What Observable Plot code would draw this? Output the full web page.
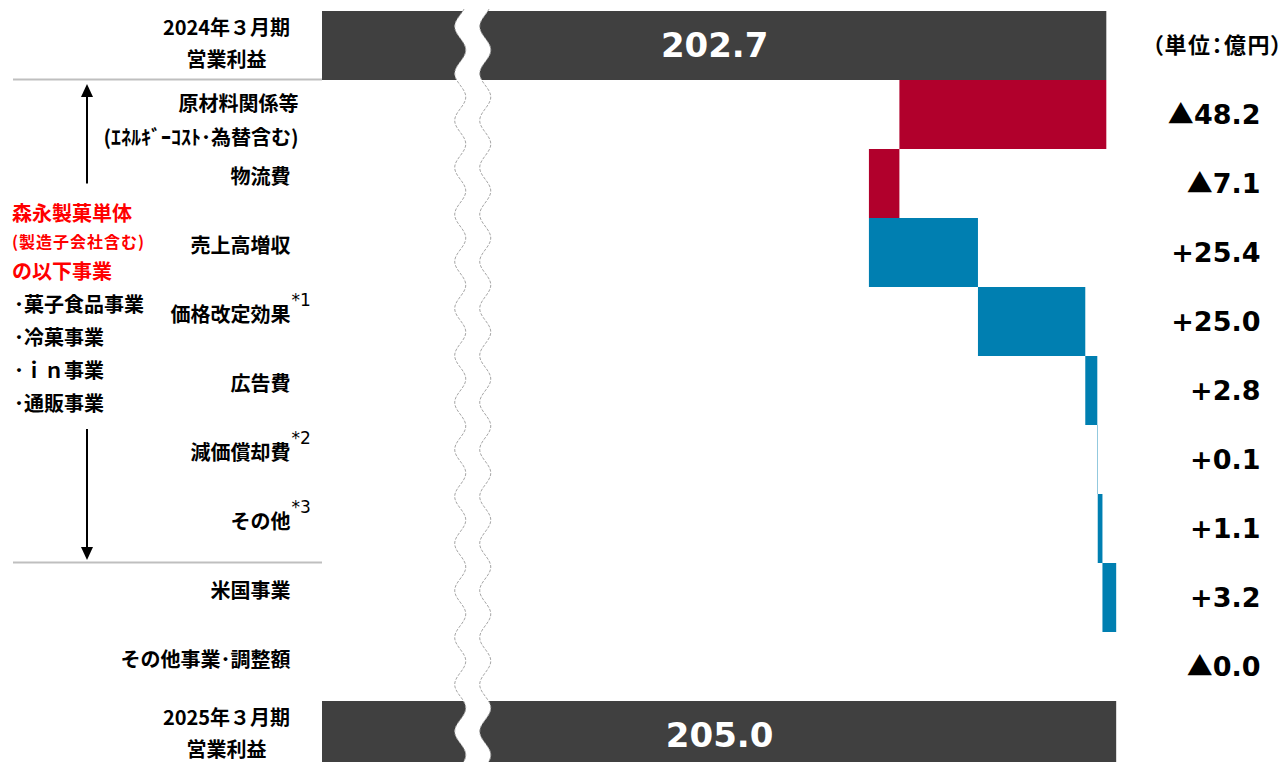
<!DOCTYPE html>
<html><head><meta charset="utf-8">
<script src="https://cdn.jsdelivr.net/npm/d3@7"></script>
<script src="https://cdn.jsdelivr.net/npm/@observablehq/plot@0.6"></script>
<style>
html,body{margin:0;padding:0;background:#fff;overflow:hidden;}
#wrap{position:relative;width:1285px;height:762px;overflow:hidden;}
</style></head>
<body><div id="wrap"><div id="chart"></div></div>
<script>
// ---- data ----
const rowKeys = ["fy2024","materials","logistics","sales","price","ads","depr","other","us","otherBiz","fy2025"];
const rowLabels = ["2024年３月期\n営業利益","原材料関係等\n(ｴﾈﾙｷﾞｰｺｽﾄ･為替含む)","物流費","売上高増収","価格改定効果","広告費","減価償却費","その他","米国事業","その他事業･調整額","2025年３月期\n営業利益"];
const rowNotes = ["","","","","*1","","*2","*3","","",""];
const deltaKeys = ["materials","logistics","sales","price","ads","depr","other","us","otherBiz"];
const deltas = [-48.2, -7.1, 25.4, 25.0, 2.8, 0.1, 1.1, 3.2, -0.0];
const totalKeys = ["fy2024","fy2025"];
const totalValues = [202.7, 205.0];
const unitLabel = "（単位：億円）";
const noteRed = ["森永製菓単体","(製造子会社含む)","の以下事業"];
const noteBlack = ["･菓子食品事業","･冷菓事業","･ｉｎ事業","･通販事業"];
const xDomain = [20, 238.5];   // axis is broken: visible range starts at 20
const breakValue = 52.2;       // position of the wavy axis break

// ---- derived tables ----
const labelOf = k => rowLabels[rowKeys.indexOf(k)];
const noteOf = k => rowNotes[rowKeys.indexOf(k)];
const isNeg = d => d < 0 || Object.is(d, -0);
let run = totalValues[0];
const steps = deltaKeys.map((k, i) => {
  const d = deltas[i];
  const s = {key: k, start: run, end: run + d, delta: d,
    text: (isNeg(d) ? "▲" : "+") + Math.abs(d).toFixed(1)};
  run += d;
  return s;
});
const totals = totalKeys.map((k, i) => ({key: k, value: totalValues[i]}));
const items = deltaKeys.map(k => ({key: k, label: labelOf(k), note: noteOf(k)}));

const RED = "#B1002C", BLUE = "#007FB1", DARK = "#404040", GRID = "#BFBFBF";
const JP = "'Noto Sans CJK JP', sans-serif";
const NUM = "'DejaVu Sans', sans-serif";

// ---- decorations: break, separators, arrows, left note ----
function decorations(index, scales, values, dims) {
  const {width, height, marginTop, marginBottom, marginLeft} = dims;
  const rowH = (height - marginTop - marginBottom) / rowKeys.length;
  const rowTop = k => marginTop + rowKeys.indexOf(k) * rowH;
  const g = d3.create("svg:g");
  // wavy break
  const cx = scales.x(breakValue), gap = 25, amp = 5.5, period = 47;
  const ys = d3.range(marginTop - 2, height + 2, 1);
  const wave = (y, off) => cx + off + amp * Math.cos(2 * Math.PI * (y - 50) / period);
  const left = ys.map(y => [wave(y, 0), y]);
  const right = ys.map(y => [wave(y, gap), y]);
  g.append("path").attr("d", d3.line()(left.concat(right.slice().reverse())) + "Z").attr("fill", "#fff");
  for (const pts of [left, right]) {
    g.append("path").attr("d", d3.line()(pts)).attr("fill", "none")
      .attr("stroke", "#A6A6A6").attr("stroke-width", 1).attr("stroke-dasharray", "3,1.5");
  }
  // separators
  for (const k of ["materials", "us"]) {
    const y = rowTop(k) - 0.5;
    g.append("line").attr("x1", 13).attr("x2", marginLeft).attr("y1", y).attr("y2", y)
      .attr("stroke", GRID).attr("stroke-width", 2);
  }
  // arrows
  const ax = 87;
  const arrow = (y1, y2) => {
    const dir = Math.sign(y2 - y1), hl = 13, hw = 6;
    g.append("line").attr("x1", ax).attr("x2", ax).attr("y1", y1).attr("y2", y2 - dir * hl)
      .attr("stroke", "#000").attr("stroke-width", 2);
    g.append("path").attr("d", `M${ax},${y2}L${ax - hw},${y2 - dir * hl}L${ax + hw},${y2 - dir * hl}Z`).attr("fill", "#000");
  };
  arrow(rowTop("logistics") + rowH / 2, rowTop("materials") + 4);
  arrow(rowTop("depr") + 4, rowTop("us") - 3);
  // left note text
  const y0 = rowTop("sales") - 4;
  const redOffsets = [0, 28, 58], redSizes = [20, 16, 20], redSpacing = [0, 1, 0];
  noteRed.forEach((t, i) => g.append("text").text(t).attr("x", 12).attr("y", y0 + redOffsets[i])
    .attr("dy", "0.35em").attr("text-anchor", "start").attr("fill", "#FF0000").attr("font-size", redSizes[i])
    .attr("letter-spacing", redSpacing[i])
    .attr("font-weight", "bold").attr("font-family", JP));
  noteBlack.forEach((t, i) => g.append("text").text(t).attr("x", 14).attr("y", y0 + 91 + 33 * i)
    .attr("dy", "0.35em").attr("text-anchor", "start").attr("fill", "#000").attr("font-size", 20)
    .attr("font-weight", "bold").attr("font-family", JP));
  return g.node();
}

const chart = Plot.plot({
  width: 1285,
  height: 770,
  marginLeft: 322,
  marginRight: 25,
  marginTop: 11,
  marginBottom: 0,
  style: {fontFamily: JP, background: "#fff"},
  x: {domain: xDomain, axis: null},
  y: {type: "band", domain: rowKeys, padding: 0, axis: null},
  marks: [
    Plot.ruleX(items, {x: () => xDomain[0], y: "key", stroke: GRID, strokeWidth: 2}),
    Plot.barX(totals, {x1: () => 0, x2: "value", y: "key", fill: DARK, clip: "frame"}),
    Plot.barX(steps, {x1: "start", x2: "end", y: "key", fill: d => isNeg(d.delta) ? RED : BLUE}),
    Plot.ruleX(steps, {x: "end", y: "key", stroke: d => isNeg(d.delta) ? "#D9607F" : "#5FA8CC", strokeWidth: 1.2}),
    decorations,
    Plot.text(totals, {x: d => (xDomain[0] + d.value) / 2, y: "key", text: d => d.value.toFixed(1),
      fill: "#fff", fontSize: 34, fontWeight: "bold", fontFamily: NUM}),
    Plot.text(steps, {y: "key", text: "text", frameAnchor: "right", textAnchor: "end",
      fontSize: 27, fontWeight: "bold", fontFamily: NUM, fill: "#000"}),
    Plot.text([{key: rowKeys[0], text: unitLabel}], {y: "key", text: "text", frameAnchor: "right", dx: 23,
      textAnchor: "end", fontSize: 22, fontWeight: "bold", fill: "#000"}),
    Plot.text(totals, {y: "key", text: d => labelOf(d.key), frameAnchor: "left", dx: -96, dy: -5,
      textAnchor: "middle", lineHeight: 1.6, fontSize: 20, fontWeight: "bold", fill: "#000"}),
    Plot.text(items.filter(d => !d.label.includes("\n")), {y: "key", text: "label", frameAnchor: "left", dx: -32, dy: -6,
      textAnchor: "end", fontSize: 20, fontWeight: "bold", fill: "#000"}),
    Plot.text(items.filter(d => d.label.includes("\n")), {y: "key", text: "label", frameAnchor: "left", dx: -24, dy: 2,
      textAnchor: "end", lineHeight: 1.7, fontSize: 20, fontWeight: "bold", fill: "#000"}),
    Plot.text(items.filter(d => d.note), {y: "key", text: "note", frameAnchor: "left", dx: -31, dy: -21,
      textAnchor: "start", fontSize: 17, fontWeight: "normal", fontFamily: NUM, fill: "#000"})
  ]
});
// post-styling of a few texts
d3.select(chart).selectAll("text").each(function() {
  const t = this.textContent;
  if (this.childElementCount === 0 && t.startsWith("▲")) {
    // the ▲ sign in the Japanese font (wider triangle with spacing, as in the original)
    const sel = d3.select(this);
    sel.text(null);
    sel.append("tspan").attr("font-family", JP).attr("font-size", 26).text("▲");
    sel.append("tspan").text(t.slice(1));
  } else if (t === unitLabel) {
    // proportional full-width brackets so the label ends at its ink
    this.style.fontFeatureSettings = '"palt"';
    this.setAttribute("letter-spacing", "1.5");
  }
});
document.getElementById("chart").appendChild(chart);
</script>
</body></html>
